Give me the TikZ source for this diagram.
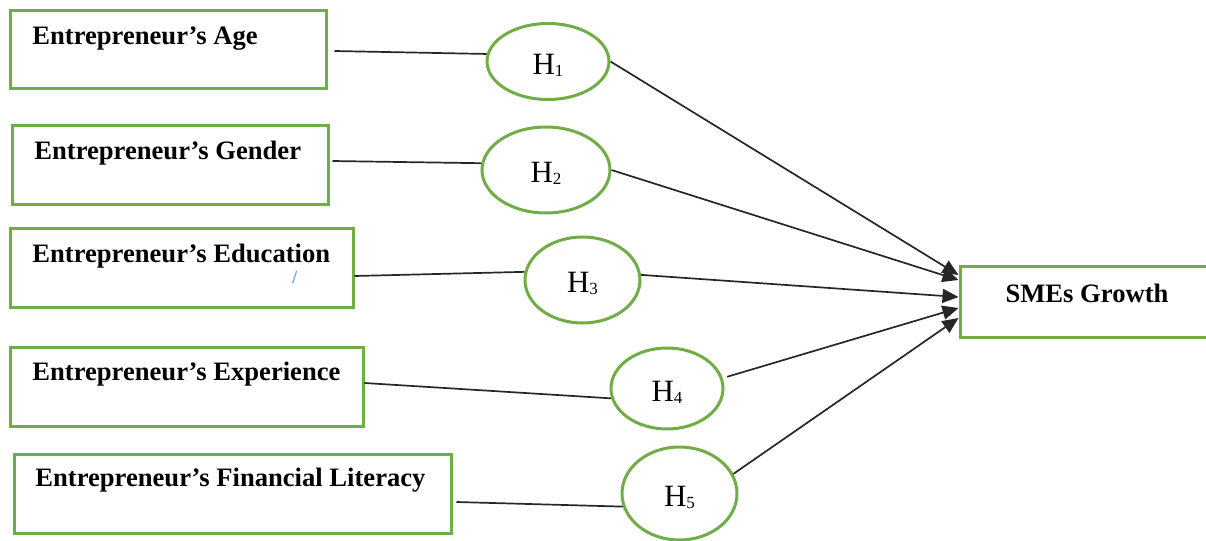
\documentclass[tikz,border=0pt]{standalone}
\usepackage{fontspec}
\setmainfont{Liberation Serif}
\usetikzlibrary{shapes.geometric,arrows.meta}
\definecolor{boxgreen}{RGB}{112,173,71}
\definecolor{slashblue}{RGB}{110,165,230}
\tikzset{
  varbox/.style={draw=boxgreen, line width=1.5pt, rectangle, inner sep=0pt},
  vartext/.style={font=\fontsize{13.3}{15}\selectfont\bfseries, inner sep=0pt},
  hyp/.style={draw=boxgreen, line width=1.5pt, ellipse, inner sep=0pt,
    text height=12.5pt, text depth=0pt,
    font=\fontsize{15.5}{17}\selectfont},
  link/.style={draw=black!85, line width=0.85pt},
  arr/.style={draw=black!85, line width=0.85pt, -{Triangle[length=8pt,width=7pt]}},
}
\newcommand{\hsub}[1]{H\raisebox{-1pt}{\fontsize{8.5}{9}\selectfont #1}}
\begin{document}
\begin{tikzpicture}[x=0.5pt,y=-0.5pt]
\useasboundingbox (0,0) rectangle (1206,541);

% variable boxes
\node[varbox, minimum width=158pt, minimum height=39pt] (b1) at (168,49) {};
\node[varbox, minimum width=158pt, minimum height=39.5pt] (b2) at (170,164.5) {};
\node[varbox, minimum width=171.5pt, minimum height=39.5pt] (b3) at (181.5,267.5) {};
\node[varbox, minimum width=176.5pt, minimum height=39.5pt] (b4) at (186.5,386.5) {};
\node[varbox, minimum width=218.5pt, minimum height=39.5pt] (b5) at (232.5,493.5) {};
\node[varbox, minimum width=130pt, minimum height=35.5pt] (sme) at (1090,301.5) {};

\node[vartext, anchor=base west] (t1) at (32,44) {Entrepreneur’s Age};
\node[vartext, anchor=base west] (t2) at (34,159) {Entrepreneur’s Gender};
\node[vartext, anchor=base west] (t3) at (32,262) {Entrepreneur’s Education};
\node[vartext, anchor=base west] (t4) at (32,380) {Entrepreneur’s Experience};
\node[vartext, anchor=base west] (t5) at (35,486) {Entrepreneur’s Financial Literacy};
\node[vartext, anchor=base] (t6) at (1087,302) {SMEs Growth};

% hypotheses
\node[hyp, minimum width=61pt, minimum height=38pt] (h1) at (548,61.5) {\hsub{1}};
\node[hyp, minimum width=64pt, minimum height=43pt] (h2) at (546,170) {\hsub{2}};
\node[hyp, minimum width=57.5pt, minimum height=43pt] (h3) at (582.5,280) {\hsub{3}};
\node[hyp, minimum width=56pt, minimum height=40.5pt] (h4) at (667,388.5) {\hsub{4}};
\node[hyp, minimum width=57.5pt, minimum height=46.5pt] (h5) at (679.5,493.5) {\hsub{5}};

% links from variables to hypotheses
\draw[link] ([xshift=3.5pt,yshift=-1pt]b1.east) -- (h1.173);
\draw[link] ([xshift=1.5pt,yshift=1.75pt]b2.east) -- (h2.174);
\draw[link] ([yshift=-4.25pt]b3.east) -- (h3.172);
\draw[link] ([yshift=1.75pt]b4.east) -- (h4.190);
\draw[link] ([xshift=2pt,yshift=-4.25pt]b5.east) -- (h5.193);

% arrows to SMEs growth
\draw[arr] (h1.east) -- ([yshift=13.25pt]sme.west);
\draw[arr] (h2.east) -- ([yshift=10.75pt]sme.west);
\draw[arr] (h3.5) -- ([yshift=2.25pt]sme.west);
\draw[arr] ([xshift=2.5pt]h4.12) -- ([yshift=-3.25pt]sme.west);
\draw[arr] (h5.20) -- ([yshift=-8.25pt]sme.west);

% small blue stroke
\draw[slashblue, line width=0.6pt] (296.7,270.7) -- (292.7,283.3);
\end{tikzpicture}
\end{document}
